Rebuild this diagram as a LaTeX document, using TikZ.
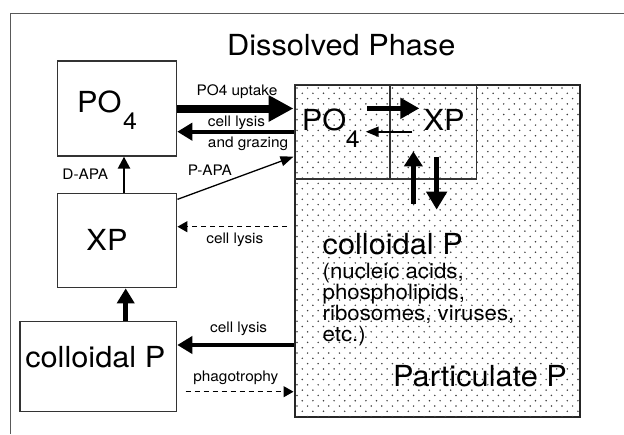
\documentclass[tikz,border=0pt]{standalone}
\usepackage{fontspec}
\setmainfont{TeX Gyre Heros}[FakeStretch=1.06]
\usetikzlibrary{arrows.meta, calc, positioning}

\newcommand{\lowsub}[2][4pt]{\hspace{#1}\raisebox{-17pt}{\fontsize{23.5}{24}\selectfont #2}}

\begin{document}
\begin{tikzpicture}[
  x=1pt, y=-1pt,
  box/.style={draw=black!80, line width=1.3pt, minimum width=119pt, minimum height=95pt, inner sep=0pt},
  big/.style={font=\fontsize{29}{32}\selectfont, inner sep=0pt},
  subtxt/.style={font=\fontsize{21}{21.3}\selectfont, inner sep=0pt},
  lbl/.style={font=\fontsize{14.5}{16}\selectfont, inner sep=0pt},
  hugearr/.style={-{Triangle[length=25pt, width=25pt]}, line width=8pt},
  bigarr/.style={-{Triangle[length=19pt, width=20pt]}, line width=5.7pt},
  arr/.style={-{Triangle[length=15pt, width=17pt]}, line width=4.5pt},
  slimarr/.style={-{Triangle[length=12pt, width=12pt]}, line width=2.5pt},
  thinarr/.style={-{Triangle[length=13pt, width=10pt]}, line width=1.4pt},
  dasharr/.style={-{Triangle[length=10pt, width=11pt]}, line width=1.2pt, dash pattern=on 5pt off 4pt}
]
  \useasboundingbox (0,0) rectangle (624,434);
  \draw[black!65, line width=1.5pt] (10.7,434) -- (10.7,13.3) -- (624,13.3);

  \node[big, anchor=base] (title) at (341.3,55.7) {Dissolved Phase};

  % dissolved pools
  \node[box] (po4L) at (117.1,108.5) {};
  \node[box, minimum height=94.4pt] (xpL) at (117.3,240.5) {};
  \node[box, minimum width=156.7pt, minimum height=89.6pt] (colL) at (98.3,366.5) {};
  \node[big, anchor=base west] (po4Ltext) at (77,112.7) {PO\lowsub[1.5pt]{4}};
  \node[big, anchor=base] (xpLtext) at (107,250) {XP};
  \node[big, anchor=base] (colLtext) at (95.3,367.7) {colloidal P};

  % particulate pool, dotted
  \node[box, draw=black!85, line width=2pt, minimum width=285pt, minimum height=332.2pt] (part) at (437,250.6) {};
  \begin{scope}
    \clip ($(part.north west)+(1.2,1.2)$) rectangle ($(part.south east)+(-1.2,-1.2)$);
    \foreach \j in {0,...,62}{
      \foreach \i in {0,...,27}{
        \fill[black!75] ({297+10.6*\i+5.3*mod(\j,2)},{88+5.3*\j}) circle (0.85);
      }
    }
  \end{scope}
  \node[box, minimum width=95.5pt, minimum height=94.5pt] (po4P) at (342.25,131.75) {};
  \node[box, minimum width=86.7pt, minimum height=94.5pt] (xpP) at (433.35,131.75) {};
  \node[big, anchor=base west] (po4Ptext) at (301.7,130) {PO\lowsub[-0.5pt]{4}};
  \node[big, anchor=base] (xpPtext) at (444,130) {XP};
  \node[big, anchor=base west] (colPtext) at (322.5,254.3) {colloidal P};
  \node[subtxt, anchor=north west, align=left] (colPlist) at (322.5,262.5)
    {(nucleic acids,\\phospholipids,\\ribosomes, viruses,\\etc.)};
  \node[big, anchor=base] (partText) at (480,386.7) {Particulate P};

  % fluxes between the pools
  \draw[hugearr] (po4L.east) -- (po4L.east -| part.west)
    node[lbl, midway, anchor=base, xshift=1.6pt, yshift=13.5pt] {PO4 uptake};
  \coordinate (lysA) at ($(po4L.east)+(0,23.2)$);
  \draw[arr, line width=4pt] (lysA -| part.west) -- (lysA)
    node[lbl, midway, anchor=base, xshift=1.1pt, yshift=5pt] {cell lysis}
    node[lbl, midway, anchor=base, xshift=12.7pt, yshift=-15.6pt] {and grazing};
  \draw[thinarr, line width=1.3pt] ($(xpL.north east)+(0,6.7)$) -- (part.west |- po4L.south)
    node[lbl, midway, anchor=base, xshift=-25.6pt, yshift=2.5pt] {P-APA};
  \draw[slimarr] ($(xpL.north)+(6.7,0)$) -- ($(po4L.south)+(6.9,0)$)
    node[lbl, midway, anchor=base, xshift=-38.7pt, yshift=-5.3pt] {D-APA};
  \coordinate (lysB) at ($(xpL.east)+(0,-13.8)$);
  \draw[dasharr] ($(lysB -| part.west)+(-6.5,0)$) -- (lysB)
    node[lbl, midway, anchor=base, xshift=2.6pt, yshift=-16.6pt] {cell lysis};
  \draw[arr] ($(colL.north)+(27.4,0)$) -- ($(xpL.south)+(8.4,0)$);
  \coordinate (lysC) at ($(colL.east)+(0,-21.5)$);
  \draw[arr] (lysC -| part.west) -- (lysC)
    node[lbl, midway, anchor=base, xshift=3.2pt, yshift=12.3pt] {cell lysis};
  \coordinate (phago) at ($(colL.east)+(8.3,25.2)$);
  \draw[dasharr] (phago) -- (phago -| part.west)
    node[lbl, midway, anchor=base, xshift=-3.75pt, yshift=10pt] {phagotrophy};

  % inside the particles
  \draw[bigarr] ($(po4P.east)+(-23.3,-23.4)$) -- ($(xpP.west)+(30,-23.4)$);
  \draw[thinarr, line width=2pt] ($(xpP.west)+(23,0)$) -- ($(po4P.east)+(-25,0)$);
  \draw[arr, -{Triangle[length=15pt, width=18pt]}] ($(xpP.south)+(-20,24)$) -- ($(xpP.south)+(-20,-28.3)$);
  \draw[arr, -{Triangle[length=18pt, width=20pt]}] ($(xpP.south)+(3.3,-23)$) -- ($(xpP.south)+(3.3,30)$);
\end{tikzpicture}
\end{document}
